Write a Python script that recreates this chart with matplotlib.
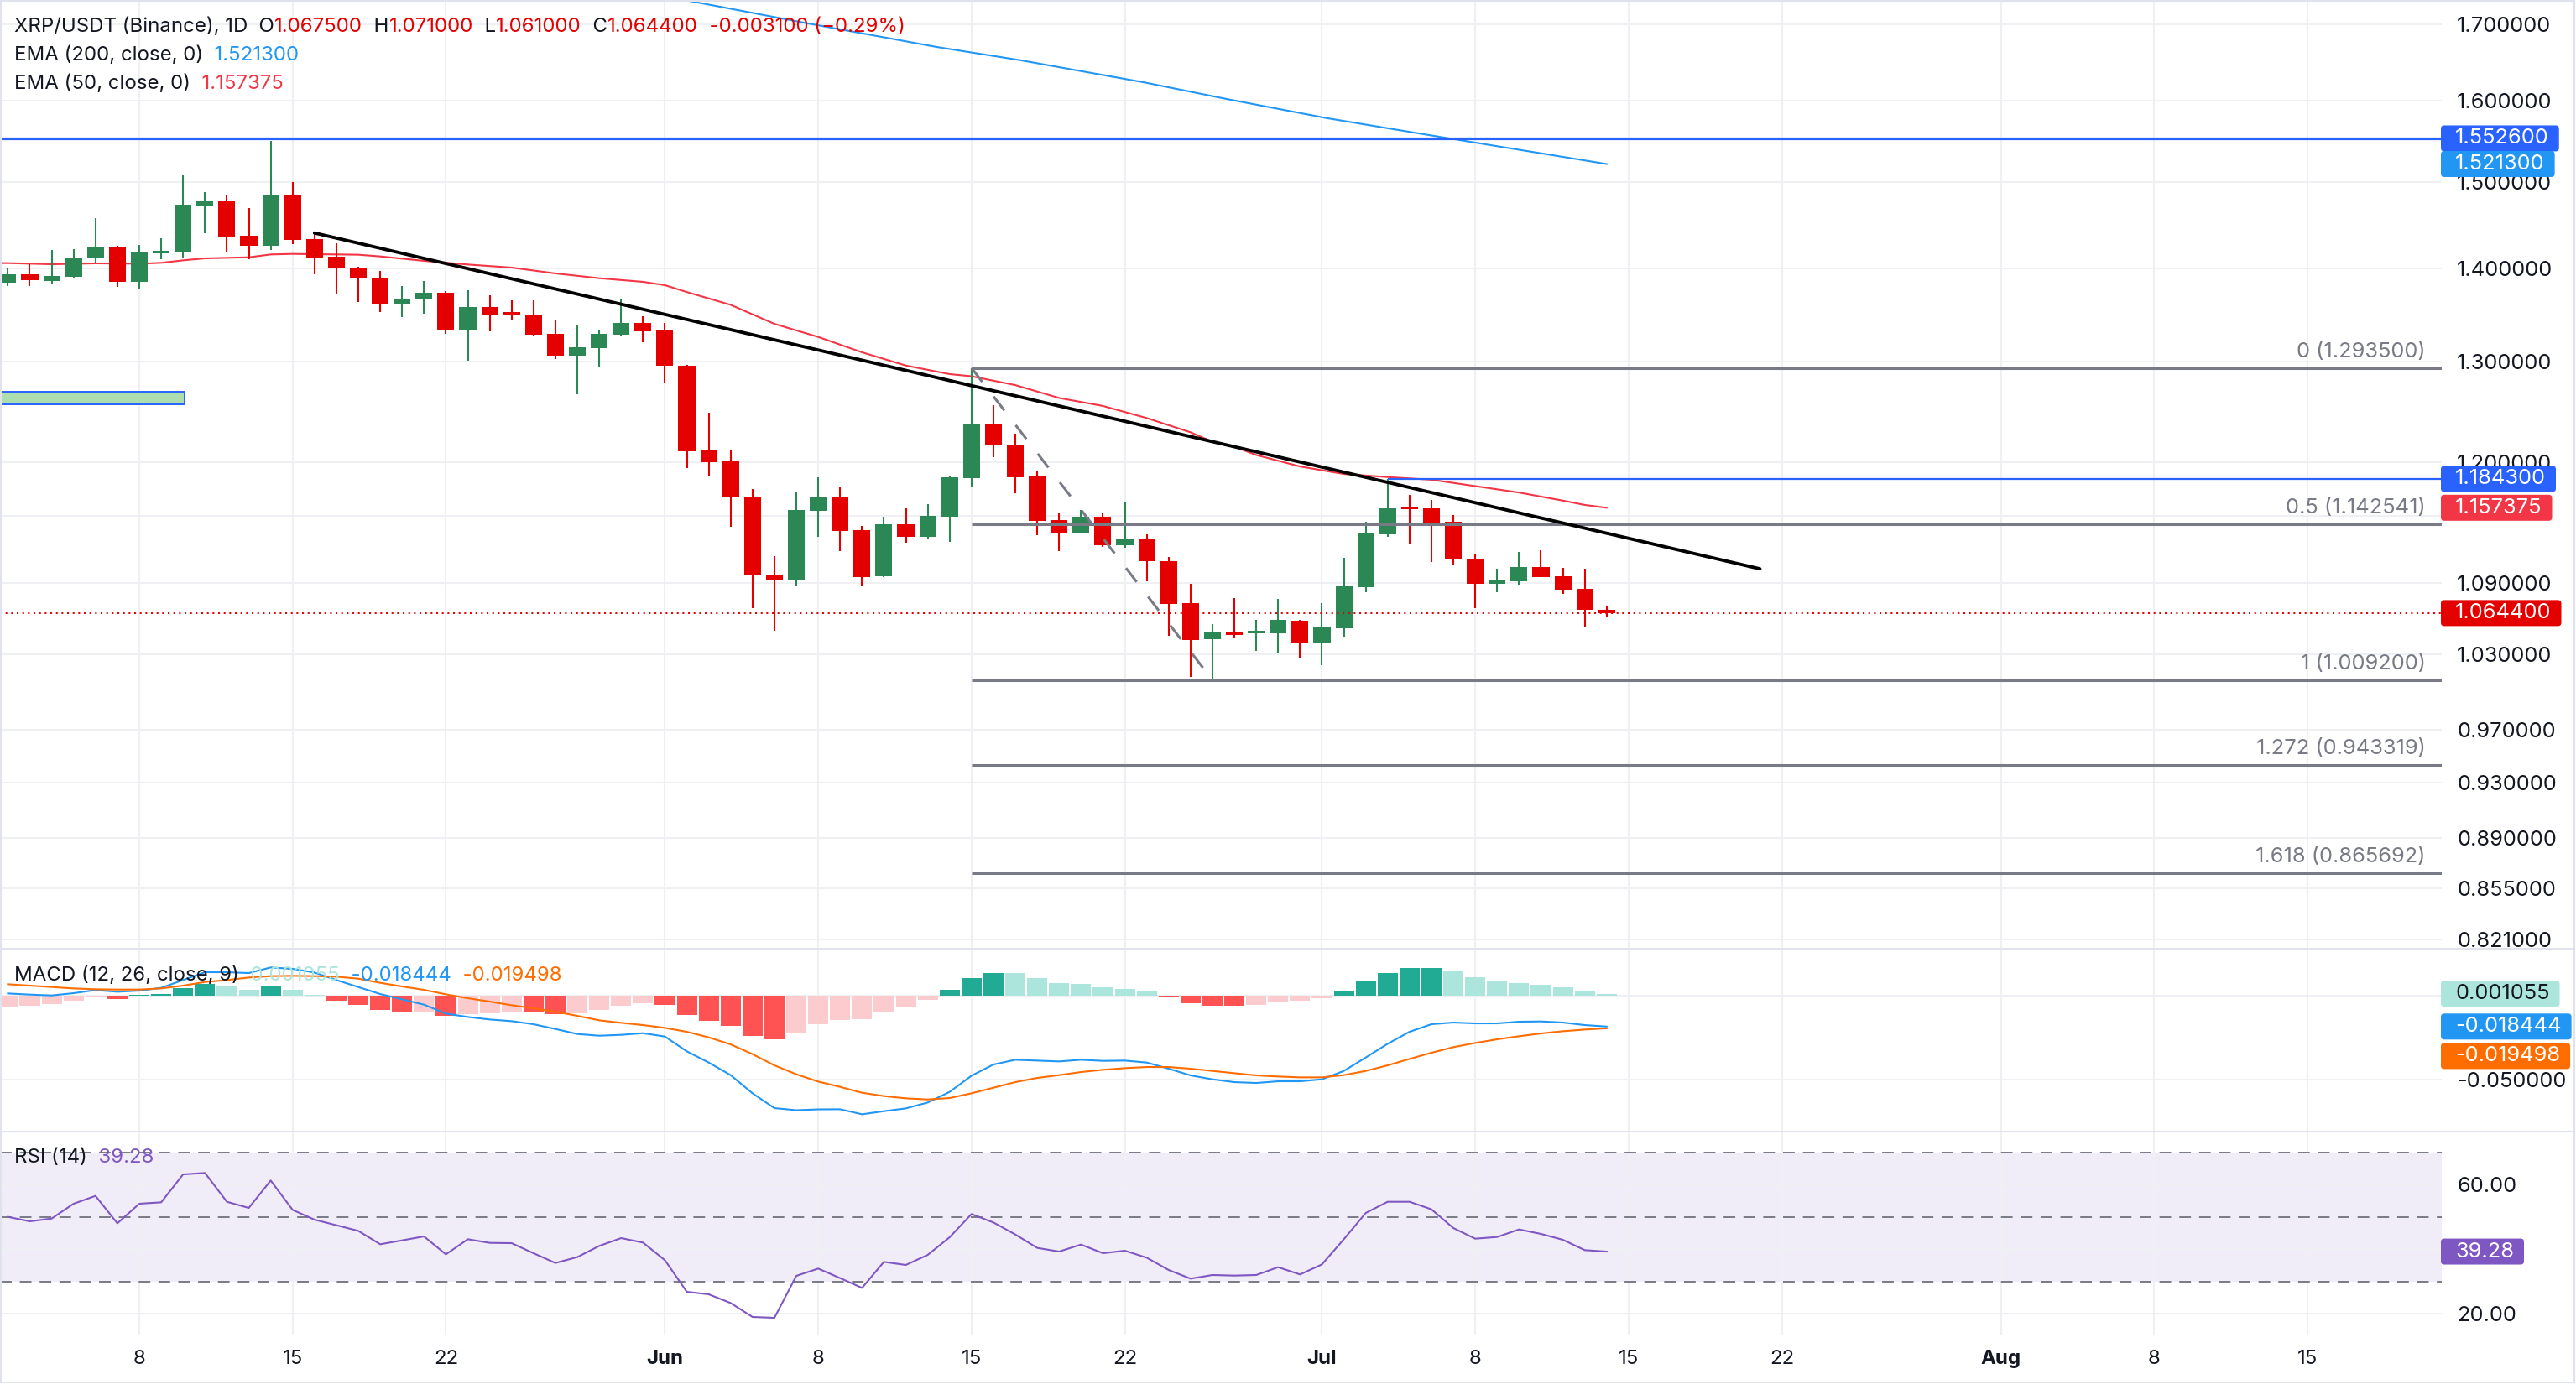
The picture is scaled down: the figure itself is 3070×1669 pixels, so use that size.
import numpy as np
import matplotlib.pyplot as plt
from matplotlib.patches import Rectangle, FancyBboxPatch
from matplotlib.lines import Line2D
from matplotlib.ticker import NullLocator
from matplotlib.transforms import IdentityTransform

plt.rcParams['font.family'] = ['Inter', 'DejaVu Sans']
plt.rcParams['lines.scale_dashes'] = False

# ---- data (day 1 = 2 May) ----
days = list(range(1, 75))
opens = [1.3846, 1.3935, 1.3864, 1.3910, 1.4116, 1.4245, 1.3854, 1.4172, 1.4191, 1.4722,
         1.4767, 1.4369, 1.4258, 1.4846, 1.4331, 1.4131, 1.4009, 1.3898, 1.3607, 1.3662,
         1.3732, 1.3338, 1.3577, 1.3514, 1.3496, 1.3293, 1.3064, 1.3143, 1.3284, 1.3406,
         1.3326, 1.2960, 1.2114, 1.2009, 1.1677, 1.0975, 1.0926, 1.1548, 1.1677, 1.1370,
         1.0962, 1.1423, 1.1312, 1.1494, 1.1852, 1.2375, 1.2170, 1.1866, 1.1461, 1.1349,
         1.1494, 1.1236, 1.1287, 1.1093, 1.0731, 1.0427, 1.0481, 1.0476, 1.0476, 1.0579,
         1.0393, 1.0518, 1.0868, 1.1334, 1.1576, 1.1569, 1.1446, 1.1115, 1.0897, 1.0919,
         1.1041, 1.0960, 1.0851, 1.0675]
highs = [1.4000, 1.4047, 1.4207, 1.4216, 1.4572, 1.4254, 1.4264, 1.4340, 1.5076, 1.4876,
         1.4846, 1.4689, 1.5494, 1.4996, 1.4395, 1.4283, 1.4019, 1.3972, 1.3805, 1.3861,
         1.3750, 1.3759, 1.3704, 1.3650, 1.3650, 1.3433, 1.3379, 1.3338, 1.3659, 1.3478,
         1.3406, 1.2966, 1.2483, 1.2114, 1.1747, 1.1139, 1.1716, 1.1858, 1.1763, 1.1410,
         1.1494, 1.1569, 1.1607, 1.1873, 1.2935, 1.2558, 1.2276, 1.1916, 1.1522, 1.1553,
         1.1530, 1.1630, 1.1334, 1.1132, 1.0894, 1.0551, 1.0772, 1.0586, 1.0765, 1.0586,
         1.0729, 1.1122, 1.1446, 1.1843, 1.1693, 1.1646, 1.1507, 1.1159, 1.1026, 1.1174,
         1.1189, 1.1033, 1.1026, 1.0710]
lows = [1.3809, 1.3809, 1.3827, 1.3901, 1.4066, 1.3799, 1.3772, 1.4106, 1.4113, 1.4401,
        1.4182, 1.4106, 1.4210, 1.4277, 1.3938, 1.3717, 1.3634, 1.3526, 1.3472, 1.3508,
        1.3293, 1.3012, 1.3320, 1.3436, 1.3267, 1.3030, 1.2670, 1.2943, 1.3275, 1.3205,
        1.2789, 1.1948, 1.1868, 1.1403, 1.0688, 1.0497, 1.0882, 1.1312, 1.1184, 1.0882,
        1.0955, 1.1259, 1.1297, 1.1266, 1.1774, 1.2052, 1.1711, 1.1327, 1.1184, 1.1342,
        1.1221, 1.1214, 1.0919, 1.0455, 1.0119, 1.0092, 1.0434, 1.0331, 1.0317, 1.0269,
        1.0214, 1.0448, 1.0824, 1.1312, 1.1244, 1.1088, 1.1058, 1.0688, 1.0824, 1.0887,
        1.0950, 1.0810, 1.0532, 1.0610]
closes = [1.3935, 1.3873, 1.3916, 1.4122, 1.4245, 1.3854, 1.4179, 1.4198, 1.4728, 1.4767,
          1.4363, 1.4258, 1.4846, 1.4324, 1.4125, 1.4003, 1.3891, 1.3607, 1.3668, 1.3732,
          1.3338, 1.3577, 1.3499, 1.3499, 1.3284, 1.3064, 1.3149, 1.3293, 1.3406, 1.3320,
          1.2960, 1.2108, 1.2003, 1.1680, 1.0970, 1.0928, 1.1553, 1.1677, 1.1365, 1.0955,
          1.1423, 1.1312, 1.1499, 1.1858, 1.2375, 1.2165, 1.1860, 1.1456, 1.1349, 1.1494,
          1.1236, 1.1287, 1.1095, 1.0724, 1.0421, 1.0481, 1.0462, 1.0488, 1.0586, 1.0393,
          1.0523, 1.0873, 1.1339, 1.1569, 1.1563, 1.1441, 1.1110, 1.0897, 1.0924, 1.1041,
          1.0955, 1.0846, 1.0675, 1.0644]

ema50_days = [0, 1, 3, 5, 7, 8, 9, 10, 12, 13, 14, 16, 17, 18, 20, 22, 24, 26, 28, 30,
              31, 32, 34, 36, 38, 40, 42, 44, 45, 47, 49, 51, 53, 55, 56, 57, 58, 60, 62, 64,
              66, 68, 70, 72, 73, 74]
ema50 = [1.4060, 1.4060, 1.4047, 1.4057, 1.4053, 1.4063, 1.4091, 1.4113, 1.4125, 1.4157,
         1.4163, 1.4157, 1.4154, 1.4135, 1.4085, 1.4044, 1.4010, 1.3945, 1.3892, 1.3852,
         1.3815, 1.3740, 1.3601, 1.3397, 1.3258, 1.3097, 1.2960, 1.2872, 1.2850, 1.2760,
         1.2630, 1.2550, 1.2430, 1.2290, 1.2197, 1.2150, 1.2070, 1.1960, 1.1889, 1.1860,
         1.1835, 1.1775, 1.1715, 1.1640, 1.1600, 1.1574]
ema200_days = [31.9, 37.6, 43.4, 47.2, 52.9, 56.7, 61.2, 66.2, 74]
ema200 = [1.7332, 1.7008, 1.6697, 1.6523, 1.6232, 1.6017, 1.5779, 1.5553, 1.5213]

macd = [0.00116, 0.00050, 0.0, 0.00133, 0.00315, 0.00215, 0.00282, 0.00447, 0.00911, 0.01375,
        0.01375, 0.01325, 0.01657, 0.01574, 0.01359, 0.00911, 0.00497, 0.00083, -0.00232, -0.00547,
        -0.01077, -0.01276, -0.01425, -0.01524, -0.01706, -0.01988, -0.02286, -0.02386, -0.02336, -0.02237,
        -0.02435, -0.03313, -0.03976, -0.04722, -0.05799, -0.06677, -0.06800, -0.06750, -0.06743, -0.07041,
        -0.06859, -0.06693, -0.06345, -0.05716, -0.04755, -0.04092, -0.03811, -0.03860, -0.03910, -0.03811,
        -0.03877, -0.03860, -0.03976, -0.04341, -0.04738, -0.04970, -0.05136, -0.05186, -0.05086, -0.05086,
        -0.04970, -0.04473, -0.03678, -0.02866, -0.02154, -0.01706, -0.01607, -0.01657, -0.01657, -0.01557,
        -0.01541, -0.01607, -0.01756, -0.018444]
signal = [0.00663, 0.00580, 0.00497, 0.00414, 0.00364, 0.00348, 0.00348, 0.00414, 0.00580, 0.00795,
          0.00911, 0.01060, 0.01143, 0.01160, 0.01143, 0.01110, 0.00994, 0.00746, 0.00530, 0.00331,
          0.00066, -0.00166, -0.00364, -0.00580, -0.00762, -0.00961, -0.01209, -0.01474, -0.01624, -0.01756,
          -0.01922, -0.02154, -0.02485, -0.02899, -0.03479, -0.04142, -0.04672, -0.05103, -0.05418, -0.05765,
          -0.05964, -0.06097, -0.06163, -0.06080, -0.05799, -0.05467, -0.05136, -0.04887, -0.04722, -0.04539,
          -0.04407, -0.04307, -0.04241, -0.04241, -0.04341, -0.04473, -0.04606, -0.04738, -0.04805, -0.04854,
          -0.04854, -0.04722, -0.04473, -0.04142, -0.03761, -0.03396, -0.03065, -0.02816, -0.02601, -0.02419,
          -0.02253, -0.02121, -0.02021, -0.019498]
hist = [-0.0066, -0.0061, -0.0050, -0.0030, -0.0012, -0.0020, 0.0005, 0.0008, 0.0043, 0.0066,
        0.0055, 0.0033, 0.0058, 0.0033, 0.0005, -0.0030, -0.0055, -0.0084, -0.0099, -0.0097,
        -0.0119, -0.0109, -0.0104, -0.0094, -0.0099, -0.0111, -0.0104, -0.0084, -0.0061, -0.0045,
        -0.0055, -0.0114, -0.0149, -0.0180, -0.0239, -0.0258, -0.0219, -0.0169, -0.0144, -0.0139,
        -0.0099, -0.0070, -0.0025, 0.0033, 0.0103, 0.0133, 0.0131, 0.0103, 0.0073, 0.0068,
        0.0048, 0.0038, 0.0023, -0.0012, -0.0046, -0.0061, -0.0062, -0.0056, -0.0036, -0.0031,
        -0.0017, 0.0028, 0.0083, 0.0133, 0.0162, 0.0163, 0.0142, 0.0108, 0.0083, 0.0073,
        0.0063, 0.0048, 0.0023, 0.001055]
rsi = [50.05, 48.66, 49.53, 54.13, 56.55, 48.05, 54.13, 54.56, 63.23, 63.67,
       54.73, 52.82, 61.33, 52.22, 49.18, 47.45, 45.71, 41.55, 42.76, 43.98,
       38.42, 43.11, 41.98, 41.89, 38.77, 35.74, 37.56, 41.03, 43.46, 42.07,
       36.60, 26.80, 26.02, 23.33, 18.99, 18.73, 31.75, 34.00, 31.05, 28.01,
       36.08, 35.13, 38.25, 43.72, 50.92, 48.31, 44.58, 40.42, 39.29, 41.46,
       38.77, 39.55, 37.38, 33.57, 30.88, 32.01, 31.83, 32.01, 34.43, 32.18,
       35.30, 43.11, 51.26, 54.73, 54.73, 52.39, 46.58, 43.28, 43.80, 46.15,
       44.76, 42.94, 39.73, 39.28]

fib_ratios = ['0', '0.5', '1', '1.272', '1.618']
fib_levels = [1.2935, 1.142541, 1.0092, 0.943319, 0.865692]
fib_start, fib_low_day = 45, 56
trend_days, trend_prices = [15, 81], [1.4401, 1.1025]
resistance, swing_high, swing_day = 1.5526, 1.1843, 64
zone_lo, zone_hi, zone_end = 1.2569, 1.2695, 9.07
last_price = 1.0644

price_ticks = [0.821, 0.855, 0.89, 0.93, 0.97, 1.03, 1.09, 1.15, 1.2, 1.3, 1.4, 1.5, 1.6, 1.7]
price_hidden = [1.15]          # label sits under the EMA50 price tag
date_pos = [7, 14, 21, 31, 38, 45, 52, 61, 68, 75, 82, 92, 99, 106]
date_labels = ['8', '15', '22', 'Jun', '8', '15', '22', 'Jul', '8', '15', '22', 'Aug', '8', '15']

# ---- style ----
W, H = 3070, 1669
FS = 17.3        # legends, dates
FA = 18.3        # price scale, tags, fib labels
DARK = '#131722'
GRID = '#EEF0F4'
UP, DOWN = '#2B8754', '#E50000'
GREY = '#787B86'
XMIN, XMAX = 0.64, 112.13

fig = plt.figure(figsize=(W / 100, H / 100), dpi=100, facecolor='white')
ax1 = fig.add_axes([0, 1 - 1130 / H, 2910 / W, 1130 / H])
ax2 = fig.add_axes([0, 1 - 1348 / H, 2910 / W, 217 / H], sharex=ax1)
ax3 = fig.add_axes([0, 1 - 1592 / H, 2910 / W, 243 / H], sharex=ax1)

for ax in (ax1, ax2, ax3):
    for s in ax.spines.values():
        s.set_visible(False)
    ax.set_axisbelow(True)
    ax.grid(True, color=GRID, lw=1.5)
    ax.yaxis.tick_right()
    ax.tick_params(axis='y', which='both', length=0, pad=13, labelsize=FA, labelcolor=DARK)
    ax.tick_params(axis='x', length=0, labelbottom=False)

# ---- price pane ----
ax1.set_yscale('log')
ax1.set_xlim(XMIN, XMAX)
ax1.set_ylim(0.8156, 1.7332)
ax1.set_yticks(price_ticks, ['' if v in price_hidden else f'{v:.6f}' for v in price_ticks])
ax1.yaxis.set_minor_locator(NullLocator())

d = np.array(days)
o, h, l, c = map(np.array, (opens, highs, lows, closes))
col = np.where(c >= o, UP, DOWN)
ax1.vlines(d, l, h, color=col, lw=1.5, zorder=3)
lo = np.minimum(o, c)
ax1.bar(d, np.maximum(np.abs(c - o), lo * 0.0018), bottom=lo, width=0.77,
        color=col, lw=0, zorder=3)

ax1.plot(ema50_days, ema50, color='#F23645', lw=1.5, zorder=2.5)
ax1.plot(ema200_days, ema200, color='#2196F3', lw=1.5, zorder=2.5)

ax1.add_patch(Rectangle((0, zone_lo), zone_end, zone_hi - zone_lo, fc='#ADDEB0',
                        ec='#2962FF', lw=1.4, zorder=2))
ax1.axhline(resistance, color='#2962FF', lw=2.3, zorder=4)
ax1.hlines(swing_high, swing_day, XMAX, color='#2962FF', lw=1.6, zorder=4)
ax1.hlines(fib_levels, fib_start, XMAX, color=GREY, lw=2.2, zorder=4)
for r, v in zip(fib_ratios, fib_levels):
    ax1.annotate(f'{r} ({v:.6f})', xy=(1.0, v), xycoords=('axes fraction', 'data'),
                 xytext=(-14, 14), textcoords='offset points', ha='right', va='center',
                 color=GREY, fontsize=FA)
ax1.plot([fib_start, fib_low_day], [fib_levels[0], fib_levels[2]], color=GREY, lw=2.2,
         ls=(0, (15, 16)), zorder=4)
ax1.plot(trend_days, trend_prices, color='black', lw=2.8, zorder=5, solid_capstyle='round')
ax1.axhline(last_price, color=DOWN, lw=1.4, ls=(0, (1.5, 3.3)), zorder=4)

# ---- MACD pane ----
hv = np.array(hist)
prev = np.r_[hv[0] - 1, hv[:-1]]
hcol = np.where(hv >= 0, np.where(hv > prev, '#22AB94', '#ACE5DC'),
                np.where(hv < prev, '#FF5252', '#FCCBCD'))
ax2.bar(d, hv, width=0.92, color=hcol, lw=0, zorder=2)
ax2.plot(d, macd, color='#2196F3', lw=1.5, zorder=3)
ax2.plot(d, signal, color='#FF6D00', lw=1.5, zorder=3)
ax2.set_ylim(-0.08017, 0.02768)
ax2.set_yticks([-0.05, 0.0], ['-0.050000', ''])

# ---- RSI pane ----
ax3.axhspan(30, 70, color='#7E57C2', alpha=0.1, lw=0, zorder=0)
for lv in (70, 50, 30):
    ax3.axhline(lv, color=GREY, lw=1.4, ls=(0, (10, 7)), zorder=1)
ax3.plot(d, rsi, color='#7E57C2', lw=1.5, zorder=3)
ax3.set_ylim(13.27, 76.51)
ax3.set_yticks([20, 40, 60], ['20.00', '', '60.00'])

ax3.set_xticks(date_pos, date_labels)
ax3.tick_params(axis='x', labelbottom=True, pad=12, labelsize=FS, labelcolor=DARK)
for t in ax3.get_xticklabels():
    if t.get_text() in ('Jun', 'Jul', 'Aug'):
        t.set_fontweight('bold')

# ---- frame / separators ----
LINE = '#E0E3EB'
for y in (1130.5, 1348.5, 1648):
    fig.add_artist(Line2D([0, 3068 / W], [1 - y / H] * 2, transform=fig.transFigure, color=LINE, lw=1.5))
for x in (1, 3068):
    fig.add_artist(Line2D([x / W] * 2, [1 - 1648 / H, 1], transform=fig.transFigure, color=LINE, lw=1.5))
fig.add_artist(Line2D([0, 3068 / W], [1 - 1 / H] * 2, transform=fig.transFigure, color=LINE, lw=1.5))

renderer = fig.canvas.get_renderer()


def scale_box(ax, value, text, face, tcolor='white', shift=0):
    y = ax.transData.transform((XMIN, value))[1] - shift
    t = fig.text(2926 / W, y / H, text, color=tcolor, fontsize=FA, va='center', ha='left', zorder=6)
    w = t.get_window_extent(renderer).width
    fig.add_artist(FancyBboxPatch((2909, y - 15.5), w + 29, 31, boxstyle='round,pad=0,rounding_size=4',
                                  transform=IdentityTransform(), fc=face, ec='none', zorder=5))


scale_box(ax1, resistance, '1.552600', '#2962FF')
scale_box(ax1, ema200[-1], '1.521300', '#2196F3')
scale_box(ax1, swing_high, '1.184300', '#2962FF')
scale_box(ax1, ema50[-1], '1.157375', '#F23645')
scale_box(ax1, last_price, '1.064400', DOWN)
scale_box(ax2, hist[-1], '0.001055', '#ACE5DC', DARK)
scale_box(ax2, macd[-1], '-0.018444', '#2196F3')
scale_box(ax2, signal[-1], '-0.019498', '#FF6D00', shift=33)
scale_box(ax3, rsi[-1], '39.28', '#7E57C2')


def chain(x, y, parts):
    for s, colr in parts:
        t = fig.text(x / W, 1 - y / H, s, color=colr, fontsize=FS, va='center', ha='left', zorder=7)
        x += t.get_window_extent(renderer).width


chain(17, 32, [('XRP/USDT (Binance), 1D', DARK), ('  O', DARK), ('1.067500', DOWN),
               ('  H', DARK), ('1.071000', DOWN), ('  L', DARK), ('1.061000', DOWN),
               ('  C', DARK), ('1.064400', DOWN), ('  -0.003100 (\u22120.29%)', DOWN)])
chain(17, 66, [('EMA (200, close, 0)', DARK), ('  1.521300', '#2196F3')])
chain(17, 100, [('EMA (50, close, 0)', DARK), ('  1.157375', '#F23645')])
chain(17, 1163, [('MACD (12, 26, close, 9)', DARK), ('  0.001055', '#ACE5DC'),
                 ('  -0.018444', '#2196F3'), ('  -0.019498', '#FF6D00')])
chain(17, 1380, [('RSI (14)', DARK), ('  39.28', '#7E57C2')])

fig.savefig('out.png', dpi=100, facecolor='white')
print('saved out.png')
